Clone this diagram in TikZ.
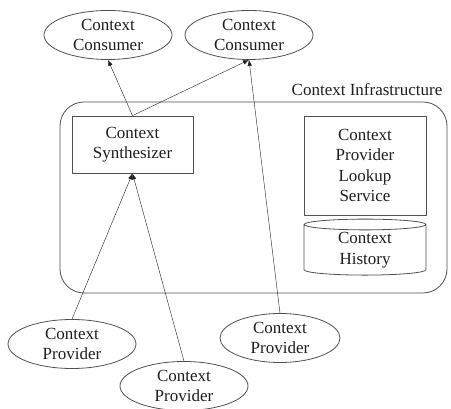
\documentclass[tikz,border=0pt]{standalone}
\usepackage{fontspec}
\setmainfont{Liberation Serif}
\usepackage{xcolor}
\usetikzlibrary{arrows.meta,shapes.geometric}
\definecolor{ink}{HTML}{1E1E1E}
\definecolor{edge}{HTML}{505050}
\tikzset{fig/.style={line join=round,>={Latex[length=6pt,width=4.5pt]},x=1pt,y=-1pt},
  lbl/.style={font=\fontsize{17}{20.5}\selectfont,text=ink,align=center},
  oval/.style={lbl,ellipse,draw=edge,thick,minimum width=128pt,minimum height=49pt,inner sep=0pt},
  box/.style={lbl,rectangle,draw=edge,thick,inner sep=0pt},
  arr/.style={draw=ink,->}}

\begin{document}
\begin{tikzpicture}[fig]
  \useasboundingbox(0,0)rectangle(451,409);
  % infrastructure frame
  \draw[edge,thick,rounded corners=24pt](60,102)rectangle(447,293);
  \node[lbl](infra)at(367,90){Context Infrastructure};
  \node[box,minimum width=121pt,minimum height=57pt](synth)at(132.5,144.5){Context\\Synthesizer};
  \node[box,minimum width=122pt,minimum height=99pt](lookup)at(365,165.5){Context\\Provider\\Lookup\\Service};
  \node[lbl,cylinder,shape border rotate=90,draw=edge,thick,aspect=0.2,minimum width=122pt,minimum height=56pt,inner sep=0pt](hist)at(365,250){Context\\History};
  % consumers and providers
  \node[oval](cons1)at(108,35){Context\\Consumer};
  \node[oval](cons2)at(249,35){Context\\Consumer};
  \node[oval](prov1)at(72,344){Context\\Provider};
  \node[oval](prov2)at(184,386){Context\\Provider};
  \node[oval,minimum width=120pt](prov3)at(280,338){Context\\Provider};
  \draw[arr](synth.north)--(cons1.south);
  \draw[arr](synth.north)--(cons2.south);
  \draw[arr](prov3.north)--(cons2.south);
  \draw[arr](prov1.north)--(synth.south);
  \draw[arr](prov2.north)--(synth.south);
\end{tikzpicture}
\end{document}
